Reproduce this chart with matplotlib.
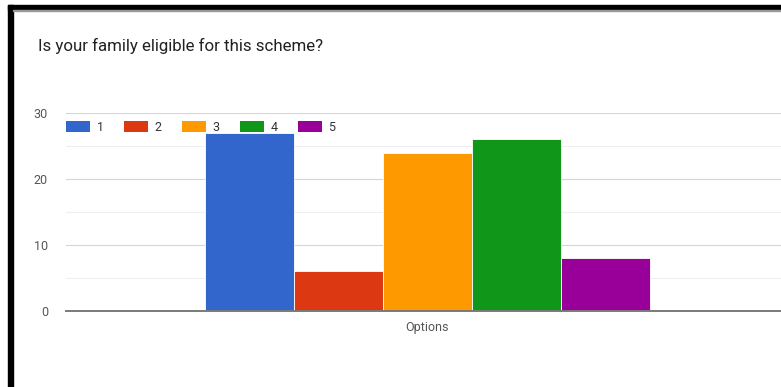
import matplotlib.pyplot as plt
from matplotlib.patches import Rectangle, Patch

plt.rcParams['font.family'] = ['Roboto', 'DejaVu Sans']

title = "Is your family eligible for this scheme?"
category = "Options"
answers = ['1', '2', '3', '4', '5']
counts = [27, 6, 24, 26, 8]
colors = ['#3366cc', '#dc3912', '#ff9900', '#109618', '#990099']
y_ticks = [0, 10, 20, 30]
y_minor = [5, 15, 25]

fig = plt.figure(figsize=(7.81, 3.87), dpi=100)
fig.patch.set_facecolor('white')

ax = fig.add_axes([66 / 781, 76 / 387, 723 / 781, 198 / 387])

offsets = [i - (len(answers) - 1) / 2 for i in range(len(answers))]
for off, val, col, lab in zip(offsets, counts, colors, answers):
    ax.bar(off, val, width=1.0, color=col, edgecolor='white', linewidth=0.6,
           label=lab, zorder=3)

ax.set_xlim(-4.06, 4.06)
ax.set_ylim(0, 30)
ax.set_yticks(y_ticks)
ax.set_yticks(y_minor, minor=True)
ax.set_xticks([0])
ax.set_xticklabels([category])
ax.tick_params(axis='both', length=0, colors='#555555', labelsize=9)
ax.tick_params(axis='y', pad=13)
ax.tick_params(axis='x', pad=7)
ax.tick_params(axis='y', which='minor', length=0)
ax.grid(axis='y', which='major', color='#d6d6d6', linewidth=0.8, zorder=0)
ax.grid(axis='y', which='minor', color='#efefef', linewidth=0.8, zorder=0)
for side in ['top', 'right', 'left']:
    ax.spines[side].set_visible(False)
ax.spines['bottom'].set_color('#7a7a7a')
ax.spines['bottom'].set_linewidth(1.4)
ax.spines['bottom'].set_zorder(4)

handles = [Patch(facecolor=c, edgecolor='none') for c in colors]
leg = ax.legend(handles, answers, ncol=5, frameon=False, fontsize=9,
                loc='upper left', bbox_to_anchor=(0.0, 0.96),
                handlelength=1.95, handleheight=0.88, handletextpad=0.5,
                columnspacing=1.62, borderaxespad=0, borderpad=0)
for t in leg.get_texts():
    t.set_color('#333333')

fig.text(38 / 781, 1 - 46 / 387, title, fontsize=12.2, color='#212121',
         ha='left', va='center')

# frame around the card
fig.patches.append(Rectangle((8 / 781, 0), 5 / 781, 1 - 5 / 387,
                             transform=fig.transFigure, color='black', zorder=10))
fig.patches.append(Rectangle((8 / 781, 1 - 10 / 387), 1 - 8 / 781, 5 / 387,
                             transform=fig.transFigure, color='black', zorder=10))
fig.patches.append(Rectangle((13 / 781, 1 - 11 / 387), 1, 1 / 387,
                             transform=fig.transFigure, color='#999999', zorder=10))

fig.savefig('out.png', dpi=100, facecolor='white')
